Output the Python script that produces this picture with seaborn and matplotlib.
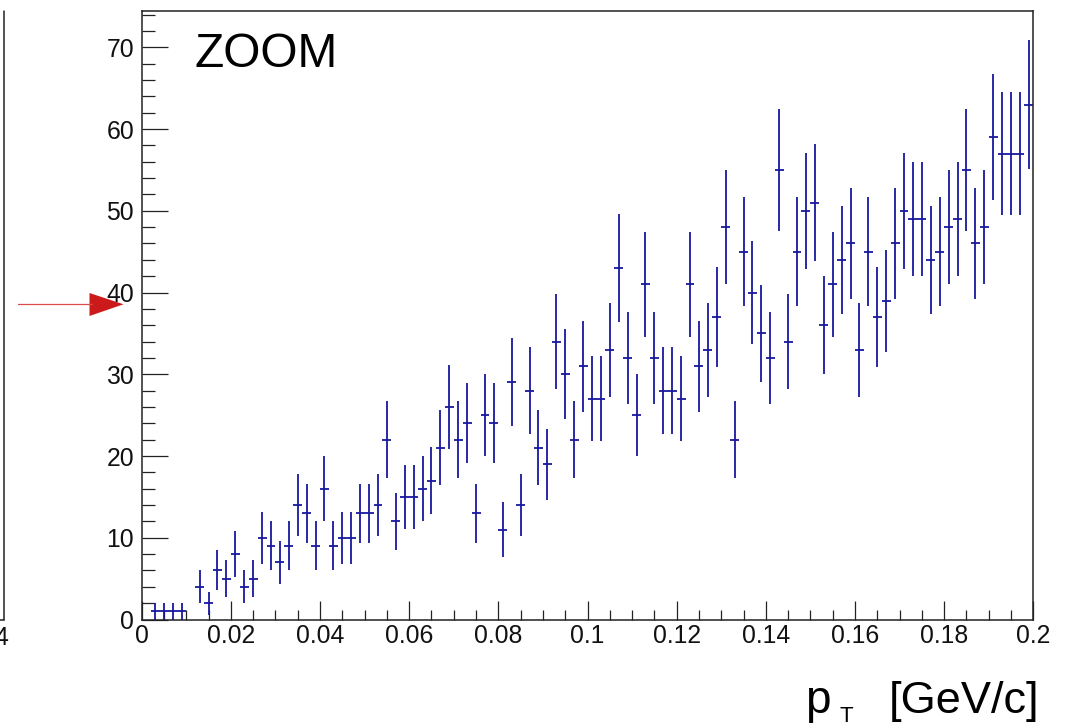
import numpy as np
import pandas as pd
import matplotlib
matplotlib.use("Agg")
import matplotlib.pyplot as plt
import seaborn as sns
from matplotlib.patches import Polygon
from matplotlib.lines import Line2D
from matplotlib.ticker import MultipleLocator, FixedLocator, FixedFormatter

# ---------------- data (histogram: 100 bins of width 0.002 GeV/c) ----------------
bin_width = 0.002
bin_low_edges = np.round(np.arange(0.0, 0.2, bin_width), 4)
counts = [0, 1, 1, 1, 1, 0, 4, 2, 6, 5,
          8, 4, 5, 10, 9, 7, 9, 14, 13, 9,
          16, 9, 10, 10, 13, 13, 14, 22, 12, 15,
          15, 16, 17, 21, 26, 22, 24, 13, 25, 24,
          11, 29, 14, 28, 21, 19, 34, 30, 22, 31,
          27, 27, 33, 43, 32, 25, 41, 32, 28, 28,
          27, 41, 31, 33, 37, 48, 22, 45, 40, 35,
          32, 55, 34, 45, 50, 51, 36, 41, 44, 46,
          33, 45, 37, 39, 46, 50, 49, 49, 44, 45,
          48, 49, 55, 46, 48, 59, 57, 57, 57, 63]
x_ticks = [0.0, 0.02, 0.04, 0.06, 0.08, 0.1, 0.12, 0.14, 0.16, 0.18, 0.2]
x_tick_labels = ["0", "0.02", "0.04", "0.06", "0.08", "0.1", "0.12", "0.14", "0.16", "0.18", "0.2"]
y_ticks = [0, 10, 20, 30, 40, 50, 60, 70]
y_tick_labels = ["0", "10", "20", "30", "40", "50", "60", "70"]
annotation = "ZOOM"
x_label_main = "p"
x_label_sub = "T"
x_label_unit = "[GeV/c]"

df = pd.DataFrame({"low": bin_low_edges, "count": counts})
df["center"] = df["low"] + bin_width / 2
df["err"] = np.sqrt(df["count"])
df = df[df["count"] > 0]

# ---------------- style ----------------
sns.set_theme(style="ticks")
plt.rcParams["font.family"] = ["Liberation Sans", "DejaVu Sans"]
plt.rcParams["text.color"] = "black"

W, H = 1070, 728
fig = plt.figure(figsize=(W / 100, H / 100), dpi=100)
fig.patch.set_facecolor("white")

def fx(px):
    return px / W

def fy(py):
    return 1 - py / H

ax_l, ax_r, ax_t, ax_b = 141.7, 1033.3, 10.5, 619.5
ax = fig.add_axes([fx(ax_l), fy(ax_b), fx(ax_r) - fx(ax_l), fy(ax_t) - fy(ax_b)])
ax.set_facecolor("white")

bar_color = "#1818a0"
ax.errorbar(df["center"], df["count"], xerr=bin_width / 2, yerr=df["err"],
            fmt="none", ecolor=bar_color, elinewidth=1.3, capsize=0)

ax.set_xlim(0, 0.2)
ax.set_ylim(0, 74.5)

ax.xaxis.set_major_locator(FixedLocator(x_ticks))
ax.xaxis.set_major_formatter(FixedFormatter(x_tick_labels))
ax.xaxis.set_minor_locator(MultipleLocator(0.005))
ax.yaxis.set_major_locator(FixedLocator(y_ticks))
ax.yaxis.set_major_formatter(FixedFormatter(y_tick_labels))
ax.yaxis.set_minor_locator(MultipleLocator(2))

for sp in ax.spines.values():
    sp.set_visible(True)
    sp.set_color("#222222")
    sp.set_linewidth(1.1)

ax.tick_params(axis="x", which="major", direction="in", length=13.7, width=0.9,
               color="#222222", labelsize=17.8, pad=3.0, top=False, labelcolor="#111111")
ax.tick_params(axis="x", which="minor", direction="in", length=7.2, width=0.9,
               color="#222222", top=False)
ax.tick_params(axis="y", which="major", direction="in", length=18.7, width=0.9,
               color="#222222", labelsize=17.8, pad=5.5, right=False, labelcolor="#111111")
ax.tick_params(axis="y", which="minor", direction="in", length=9.4, width=0.9,
               color="#222222", right=False)
ax.grid(False)

# ---------------- text ----------------
fig.text(fx(194), fy(67), annotation, fontsize=34.5, ha="left", va="baseline", color="black")
fig.text(fx(805), fy(713), x_label_main, fontsize=33, ha="left", va="baseline", color="black")
fig.text(fx(840), fy(727.5), x_label_sub, fontsize=16, ha="left", va="bottom", color="black")
fig.text(fx(1039), fy(713), x_label_unit, fontsize=32.5, ha="right", va="baseline", color="black")

# ---------------- neighbouring pad remnant and red arrow ----------------
fig.add_artist(Line2D([fx(3.5), fx(3.5)], [fy(10.5), fy(619.5)], color="#222222", lw=1.1))
fig.add_artist(Line2D([fx(0), fx(3.5)], [fy(619.5), fy(619.5)], color="#222222", lw=1.1))
fig.text(fx(8), fy(645), "4", fontsize=17.8, ha="right", va="baseline", color="#111111")

fig.add_artist(Line2D([fx(18), fx(92)], [fy(304.3), fy(304.3)], color="#dd4a4a", lw=0.9))
fig.add_artist(Polygon([[fx(89.5), fy(293)], [fx(123.5), fy(304.3)], [fx(89.5), fy(316)]],
                       closed=True, facecolor="#cc1a1a", edgecolor="none",
                       transform=fig.transFigure))

fig.savefig("out.png", dpi=100, facecolor="white")
